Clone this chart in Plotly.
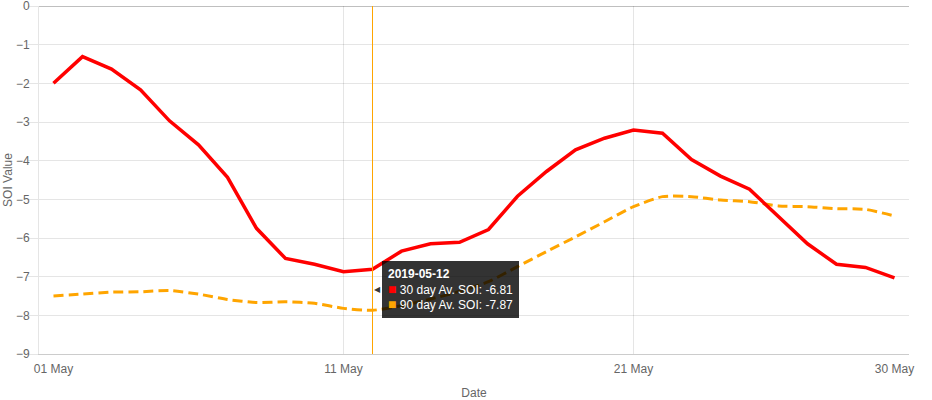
import plotly.graph_objects as go

dates = [f"2019-05-{d:02d}" for d in range(1, 31)]
soi_30 = [-2.00, -1.31, -1.63, -2.17, -2.97, -3.59, -4.43, -5.75, -6.53, -6.68,
          -6.87, -6.81, -6.34, -6.15, -6.11, -5.78, -4.92, -4.28, -3.72, -3.42,
          -3.21, -3.29, -3.97, -4.40, -4.74, -5.45, -6.15, -6.68, -6.76, -7.03]
soi_90 = [-7.50, -7.45, -7.40, -7.39, -7.36, -7.45, -7.59, -7.67, -7.65, -7.69,
          -7.82, -7.87, -7.75, -7.58, -7.38, -7.13, -6.74, -6.35, -5.97, -5.58,
          -5.19, -4.93, -4.93, -5.02, -5.06, -5.17, -5.19, -5.24, -5.26, -5.43]
tick_dates = ["2019-05-01", "2019-05-11", "2019-05-21", "2019-05-30"]
tick_labels = ["01 May", "11 May", "21 May", "30 May"]
grid_dates = ["2019-05-11", "2019-05-21"]
x_range = ["2019-04-30 12:00", "2019-05-30 12:00"]
hover_idx = 11
name_30 = "30 day Av. SOI"
name_90 = "90 day Av. SOI"

FONT = "Liberation Sans, Arial, Helvetica, sans-serif"
GRID = "rgba(0,0,0,0.1)"

fig = go.Figure()
fig.add_trace(go.Scatter(x=dates, y=soi_90, mode="lines", name=name_90,
                         line=dict(color="#FFA500", width=3, dash="10px,5px",
                                   shape="spline", smoothing=0.6)))
fig.add_trace(go.Scatter(x=dates, y=soi_30, mode="lines", name=name_30,
                         line=dict(color="#FF0000", width=3.5)))

shapes = []
for g in grid_dates:
    shapes.append(dict(type="line", xref="x", yref="paper", x0=g, x1=g, y0=0, y1=1,
                       line=dict(color=GRID, width=1), layer="below"))
shapes.append(dict(type="line", xref="x", yref="paper", x0=dates[hover_idx], x1=dates[hover_idx],
                   y0=0, y1=1, line=dict(color="#FFA500", width=1), layer="above"))

mid = (soi_30[hover_idx] + soi_90[hover_idx]) / 2
tip = (f"<b>{dates[hover_idx]}</b><br>"
       f"<span style='color:#FF0000;font-size:14px'>■</span> {name_30}: {soi_30[hover_idx]:.2f}<br>"
       f"<span style='color:#FFA500;font-size:14px'>■</span> {name_90}: {soi_90[hover_idx]:.2f}")

annotations = [
    dict(x=dates[hover_idx], y=mid, xref="x", yref="y", text=tip, showarrow=False,
         xanchor="left", yanchor="middle", xshift=9, align="left",
         bgcolor="rgba(0,0,0,0.8)", borderpad=6, borderwidth=0,
         font=dict(family=FONT, size=12, color="#ffffff")),
    dict(x=dates[hover_idx], y=mid, xref="x", yref="y", text="◀", showarrow=False,
         xanchor="right", yanchor="middle", xshift=10,
         font=dict(family="DejaVu Sans", size=8, color="rgba(0,0,0,0.8)")),
]

fig.update_layout(
    width=932, height=400,
    margin=dict(l=39, r=23, t=6, b=46, autoexpand=False),
    paper_bgcolor="white", plot_bgcolor="white",
    showlegend=False, hovermode=False,
    font=dict(family=FONT, size=12, color="#666666"),
    shapes=shapes, annotations=annotations,
    xaxis=dict(type="date", range=x_range, tickvals=tick_dates, ticktext=tick_labels,
               automargin=False, ticklabeloverflow="allow",
               showgrid=False, zeroline=False, showline=True, linecolor="rgba(0,0,0,0.2)",
               ticks="outside", ticklen=4, tickcolor="rgba(0,0,0,0)",
               tickfont=dict(family=FONT, size=12, color="#666666"),
               title=dict(text="Date", standoff=14, font=dict(family=FONT, size=12, color="#666666"))),
    yaxis=dict(range=[-9, 0], dtick=1, showgrid=True, gridcolor=GRID, automargin=False,
               ticklabeloverflow="allow", ticklabelstandoff=-4,
               zeroline=True, zerolinecolor="rgba(0,0,0,0.25)", zerolinewidth=1,
               showline=True, linecolor=GRID,
               ticks="outside", ticklen=10, tickcolor=GRID,
               tickfont=dict(family=FONT, size=12, color="#666666"),
               title=dict(text="SOI Value", standoff=0, font=dict(family=FONT, size=12, color="#666666"))),
)

fig.write_html("out.html", config={"displayModeBar": False},
               post_script="document.body.style.margin='0';")
